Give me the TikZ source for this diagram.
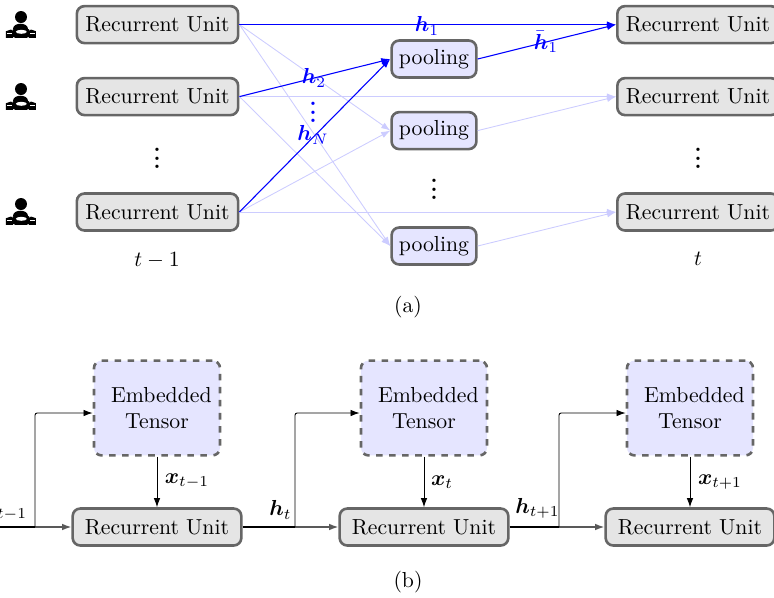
\documentclass[tikz,border=0pt]{standalone}
\usepackage{amsmath}
\usepackage{bm}
\usetikzlibrary{arrows.meta}
\tikzset{
  x=0.46pt,y=-0.46pt,
  unit/.style={draw=black!60,fill=black!10,very thick,rounded corners=3.5pt,inner sep=0pt,minimum width=74.2pt,minimum height=17pt},
  unitb/.style={unit,minimum width=77.6pt},
  pool/.style={draw=black!60,fill=blue!10,very thick,rounded corners=3.5pt,inner sep=0pt,minimum width=39pt,minimum height=17pt},
  embed/.style={draw=black!60,fill=blue!10,very thick,dashed,rounded corners=3.5pt,inner sep=0pt,minimum width=58pt,minimum height=43.6pt,align=center},
  lite/.style={-{Latex[length=4.2pt,width=3pt]},blue!20,thin},
  hot/.style={-{Latex[length=4.2pt,width=3pt]},blue,line width=0.5pt},
  flow/.style={-{Latex[length=4.2pt,width=3pt]},black,thin},
  pass/.style={-{Latex[length=4.2pt,width=3pt]},black!65,line width=0.6pt},
  plain/.style={black,line width=0.6pt},
  lab/.style={inner sep=0pt,text=blue},
  txt/.style={inner sep=0pt},
  driver/.pic={
    \fill[black] (0,-8) circle (6);
    \fill[black] (-7.5,4) .. controls (-7.5,-3) and (7.5,-3) .. (7.5,4) -- cycle;
    \fill[black,rounded corners=1.5pt] (-9,3.5) rectangle (9,12.8);
    \fill[black] (-15,6.2) -- (-10,4.5) -- (-8,6) -- (-8,12.8) -- (-15,12.8) -- cycle;
    \fill[black] (15,6.2) -- (10,4.5) -- (8,6) -- (8,12.8) -- (15,12.8) -- cycle;
    \fill[white] (0.3,6.8) ellipse (5.5 and 2);
    \fill[white] (-14,8.4) rectangle (-9.5,9.2);
    \fill[white] (9.5,8.4) rectangle (14,9.2);
  }
}
\begin{document}
\begin{tikzpicture}
\useasboundingbox (0,0) rectangle (774,598);
% part (a)
\pic at (21,25) {driver};
\pic at (21,97) {driver};
\pic at (21,212) {driver};
\node[unit] (a1) at (157.5,24.6) {Recurrent Unit};
\node[unit] (a2) at (157.5,96.6) {Recurrent Unit};
\node[unit] (a3) at (157.5,212) {Recurrent Unit};
\node[pool] (p1) at (434,59) {pooling};
\node[pool] (p2) at (434,130.6) {pooling};
\node[pool] (p3) at (434,246) {pooling};
\node[unit] (b1) at (698,24.6) {Recurrent Unit};
\node[unit] (b2) at (698,96.6) {Recurrent Unit};
\node[unit] (b3) at (698,212) {Recurrent Unit};
\node[txt] (d1) at (157,152) {$\bm{\vdots}$};
\node[txt] (d2) at (434,183) {$\bm{\vdots}$};
\node[txt] (d3) at (698,152) {$\bm{\vdots}$};
\node[txt] (t1) at (157,260) {$t-1$};
\node[txt] (t2) at (698,259) {$t$};
\node[txt] (ca) at (408,307) {(a)};
% light connectors
\draw[lite] (a1.east) -- (p2.west);
\draw[lite] (a1.east) -- (p3.west);
\draw[lite] (a2.east) -- (p3.west);
\draw[lite] (a3.east) -- (p2.west);
\draw[lite] (a2.east) -- (b2.west);
\draw[lite] (a3.east) -- (b3.west);
\draw[lite] (p2.east) -- (b2.west);
\draw[lite] (p3.east) -- (b3.west);
% highlighted connectors
\draw[hot] (a1.east) -- (b1.west);
\draw[hot] (a2.east) -- (p1.west);
\draw[hot] (a3.east) -- (p1.west);
\draw[hot] (p1.east) -- (b1.west);
\node[lab] (h1) at (427,26) {$\bm{h}_1$};
\node[lab] (h2) at (314,78) {$\bm{h}_2$};
\node[lab] (hd) at (313,106) {$\bm{\vdots}$};
\node[lab] (hn) at (313,135) {$\bm{h}_N$};
\node[lab] (hb) at (546,42) {$\bar{\bm{h}}_1$};
% part (b)
\node[embed] (e1) at (157,408) {\hspace*{4pt}Embedded\\Tensor};
\node[embed] (e2) at (424,408) {\hspace*{4pt}Embedded\\Tensor};
\node[embed] (e3) at (690,408) {\hspace*{4pt}Embedded\\Tensor};
\node[unitb] (r1) at (157,527) {Recurrent Unit};
\node[unitb] (r2) at (424,527) {Recurrent Unit};
\node[unitb] (r3) at (690,527) {Recurrent Unit};
\coordinate (start) at (-10,527);
\coordinate (j1) at (35,527);
\coordinate (j2) at (295,527);
\coordinate (j3) at (559,527);
\coordinate (u1) at (35,413);
\coordinate (u2) at (295,413);
\coordinate (u3) at (559,413);
\draw[pass] (start) -- (r1.west);
\draw[pass] (r1.east) -- (r2.west);
\draw[pass] (r2.east) -- (r3.west);
\draw[plain] (r1.east) -- (j2);
\draw[plain] (r2.east) -- (j3);
\draw[plain] (start) -- (j1);
\draw[flow,rounded corners=1pt] (j1) -- (u1) -- (e1.west |- u1);
\draw[flow,rounded corners=1pt] (j2) -- (u2) -- (e2.west |- u2);
\draw[flow,rounded corners=1pt] (j3) -- (u3) -- (e3.west |- u3);
\draw[flow] (e1.south) -- (r1.north);
\draw[flow] (e2.south) -- (r2.north);
\draw[flow] (e3.south) -- (r3.north);
\node[txt] (x1) at (187,481) {$\bm{x}_{t-1}$};
\node[txt] (x2) at (442,482) {$\bm{x}_{t}$};
\node[txt] (x3) at (720,482) {$\bm{x}_{t+1}$};
\node[txt,anchor=east] (l0) at (27.5,510) {$\bm{h}_{t-1}$};
\node[txt] (l1) at (280.5,510) {$\bm{h}_{t}$};
\node[txt] (l2) at (537.5,508) {$\bm{h}_{t+1}$};
\node[txt] (cb) at (408,582) {(b)};
\end{tikzpicture}
\end{document}
